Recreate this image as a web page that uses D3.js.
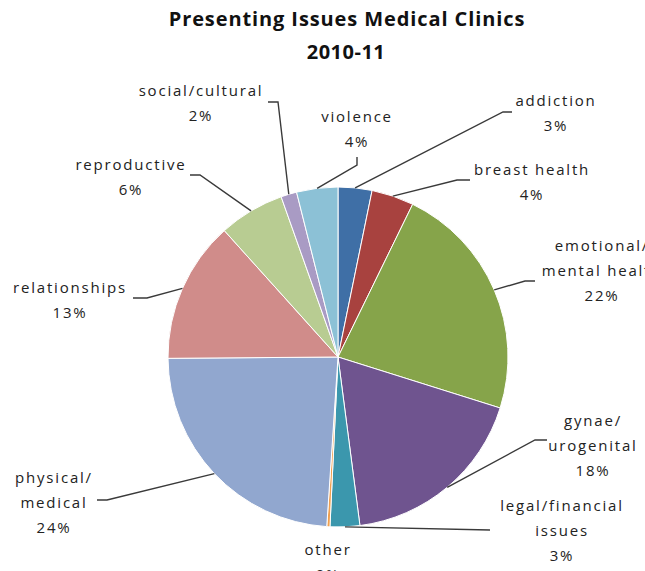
<!DOCTYPE html>
<html>
<head>
<meta charset="utf-8">
<script src="https://cdn.jsdelivr.net/npm/d3@7"></script>
<style>
	body { margin: 0; background: #fff; }
	svg { display: block; }
	.lbl { font-family: "Open Sans", sans-serif; font-size: 15px; letter-spacing: 1.8px; fill: #222; }
	.title { font-family: "Open Sans", sans-serif; font-weight: bold; font-size: 20px; fill: #111; }
</style>
</head>
<body>
<script>
// data, clockwise from 12 o'clock
var categories = ["addiction", "breast health", "emotional/mental health", "gynae/urogenital",
	"legal/financial issues", "other", "physical/medical", "relationships",
	"reproductive", "social/cultural", "violence"];
var labelLines = [["addiction"], ["breast health"], ["emotional/", "mental health"], ["gynae/", "urogenital"],
	["legal/financial", "issues"], ["other"], ["physical/", "medical"], ["relationships"],
	["reproductive"], ["social/cultural"], ["violence"]];
var values = [3.2, 4.0, 22.5, 18.0, 2.8, 0.3, 23.7, 13.4, 6.2, 1.5, 3.9];
var pctLabels = ["3%", "4%", "22%", "18%", "3%", "0%", "24%", "13%", "6%", "2%", "4%"];

var colors = ["#3f6fa6", "#a8423f", "#86a44a", "#6f548f", "#3b97ad", "#f0a050",
	"#91a7cf", "#d08c8a", "#b8cc92", "#a99bc4", "#8cc1d6"];

// label placement: text centre x, first baseline, leader elbow and end
var layout = [
	{ x: 556, y: 106, elbow: [503, 112], end: [512, 112] },
	{ x: 532, y: 175, elbow: [457, 180], end: [470, 180] },
	{ x: 602, y: 251, elbow: [525, 281], end: [535, 281] },
	{ x: 593, y: 426, elbow: [535, 440], end: [547, 440] },
	{ x: 562, y: 511, elbow: null, end: [490, 530] },
	{ x: 328, y: 555, elbow: null, end: null },
	{ x: 54, y: 483, elbow: [107, 500], end: [97, 500] },
	{ x: 70, y: 293, elbow: [147, 298], end: [133, 298] },
	{ x: 131, y: 170, elbow: [200, 175], end: [190, 175] },
	{ x: 201, y: 96, elbow: [278, 102], end: [268, 102] },
	{ x: 357, y: 122, elbow: [357, 165], end: [357, 157] }
];

var width = 645, height = 571;
var cx = 338, cy = 357, radius = 170;

var svg = d3.select("body").append("svg")
	.attr("width", width)
	.attr("height", height);

svg.append("text")
	.attr("class", "title")
	.attr("x", 347)
	.attr("y", 26)
	.attr("text-anchor", "middle")
	.style("letter-spacing", "0.9px")
	.text("Presenting Issues Medical Clinics");

svg.append("text")
	.attr("class", "title")
	.attr("x", 346)
	.attr("y", 59)
	.attr("text-anchor", "middle")
	.style("letter-spacing", "0.5px")
	.text("2010-11");

var pie = d3.pie().sort(null).value(function(d) { return d; });
var arcs = pie(values);

var arc = d3.arc().innerRadius(0).outerRadius(radius);

var g = svg.append("g")
	.attr("transform", "translate(" + cx + "," + cy + ")");

g.selectAll(".slice")
	.data(arcs)
	.enter().append("path")
	.attr("class", "slice")
	.attr("d", arc)
	.style("fill", function(d, i) { return colors[i]; })
	.style("stroke", "#fff")
	.style("stroke-width", "1px");

// leader lines from the slice edge
var line = d3.line();
svg.selectAll(".leader")
	.data(arcs.filter(function(d, i) { return layout[i].end; }))
	.enter().append("path")
	.attr("class", "leader")
	.attr("d", function(d) {
		var L = layout[d.index];
		var a = (d.startAngle + d.endAngle) / 2;
		var pts = [[cx + radius * Math.sin(a), cy - radius * Math.cos(a)]];
		if (L.elbow) pts.push(L.elbow);
		pts.push(L.end);
		return line(pts);
	})
	.style("fill", "none")
	.style("stroke", "#3a3a3a")
	.style("stroke-width", "1.4px");

var labels = svg.selectAll(".lbl")
	.data(categories)
	.enter().append("text")
	.attr("class", "lbl")
	.attr("text-anchor", "middle")
	.attr("x", function(d, i) { return layout[i].x; })
	.attr("y", function(d, i) { return layout[i].y; });

labels.each(function(d, i) {
	var t = d3.select(this);
	var lines = labelLines[i].concat([pctLabels[i]]);
	lines.forEach(function(s, k) {
		t.append("tspan")
			.attr("x", layout[i].x)
			.attr("dy", k === 0 ? 0 : 25)
			.text(s);
	});
});
</script>
</body>
</html>
